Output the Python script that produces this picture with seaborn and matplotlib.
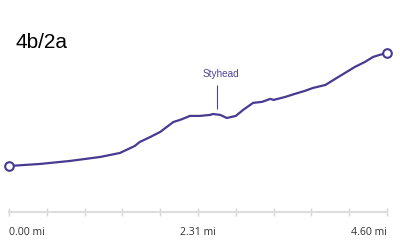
import numpy as np
import pandas as pd
import matplotlib
matplotlib.use("Agg")
import matplotlib.pyplot as plt
import seaborn as sns

# ---- data ----
distance_mi = [0.00, 0.38, 0.74, 1.11, 1.35, 1.53, 1.59, 1.72, 1.84, 2.00,
               2.08, 2.14, 2.20, 2.32, 2.45, 2.48, 2.57, 2.65, 2.76, 2.85,
               2.97, 3.08, 3.18, 3.22, 3.36, 3.48, 3.60, 3.70, 3.85, 3.97,
               4.05, 4.21, 4.33, 4.43, 4.51, 4.60]
elevation_m = [130, 144, 164, 191, 218, 265, 292, 326, 360, 427,
               441, 454, 468, 468, 475, 481, 475, 454, 468, 509,
               556, 563, 583, 576, 596, 617, 637, 657, 677, 718,
               745, 799, 832, 866, 880, 893]
title = "4b/2a"
waypoint_name = "Styhead"
waypoint_mi = 2.53
tick_positions = [0.0, 0.46, 0.92, 1.38, 1.84, 2.30, 2.76, 3.22, 3.68, 4.14, 4.60]
tick_labels = ["0.00 mi", "", "", "", "", "2.31 mi", "", "", "", "", "4.60 mi"]

LINE = "#463a91"
TEXT_P = "#4f4597"

sns.set_style("white")
plt.rcParams["font.family"] = ["Liberation Sans", "DejaVu Sans"]

df = pd.DataFrame({"mi": distance_mi, "elev": elevation_m})

fig = plt.figure(figsize=(4, 2.5), dpi=100)
ax = fig.add_axes([9 / 400, 38 / 250, 378 / 400, 192 / 250])
sns.lineplot(data=df, x="mi", y="elev", ax=ax, color=LINE, linewidth=1.6)
ends = df.iloc[[0, -1]]
ax.plot(ends["mi"], ends["elev"], linestyle="none", marker="o", markersize=6.2,
        markerfacecolor="white", markeredgecolor=LINE, markeredgewidth=1.5,
        clip_on=False, zorder=5)

ax.set_xlim(0, 4.6)
ax.set_ylim(-180.5, 1115.5)
ax.set_xlabel("")
ax.set_ylabel("")
ax.set_yticks([])

# waypoint marker
ax.vlines(waypoint_mi, 515, 677, color=TEXT_P, linewidth=0.8)
ax.text(waypoint_mi + 0.05, 751, waypoint_name, ha="center", va="center",
        fontsize=7.2, color=TEXT_P)

for s in ["left", "right", "top"]:
    ax.spines[s].set_visible(False)
ax.spines["bottom"].set_color("#dddddd")
ax.spines["bottom"].set_linewidth(1.5)

ax.set_xticks(tick_positions)
ax.set_xticklabels(tick_labels, fontfamily=["Open Sans", "DejaVu Sans"])
ax.tick_params(axis="x", direction="inout", length=6, width=1, color="#d6d6d6",
               labelsize=7.6, labelcolor="#333333", pad=8, bottom=True)
labs = ax.get_xticklabels()
labs[0].set_ha("left")
labs[-1].set_ha("right")

fig.text(16 / 400, 1 - 42 / 250, title, ha="left", va="center", fontsize=15,
         color="black")

fig.savefig("out.png", dpi=100)
